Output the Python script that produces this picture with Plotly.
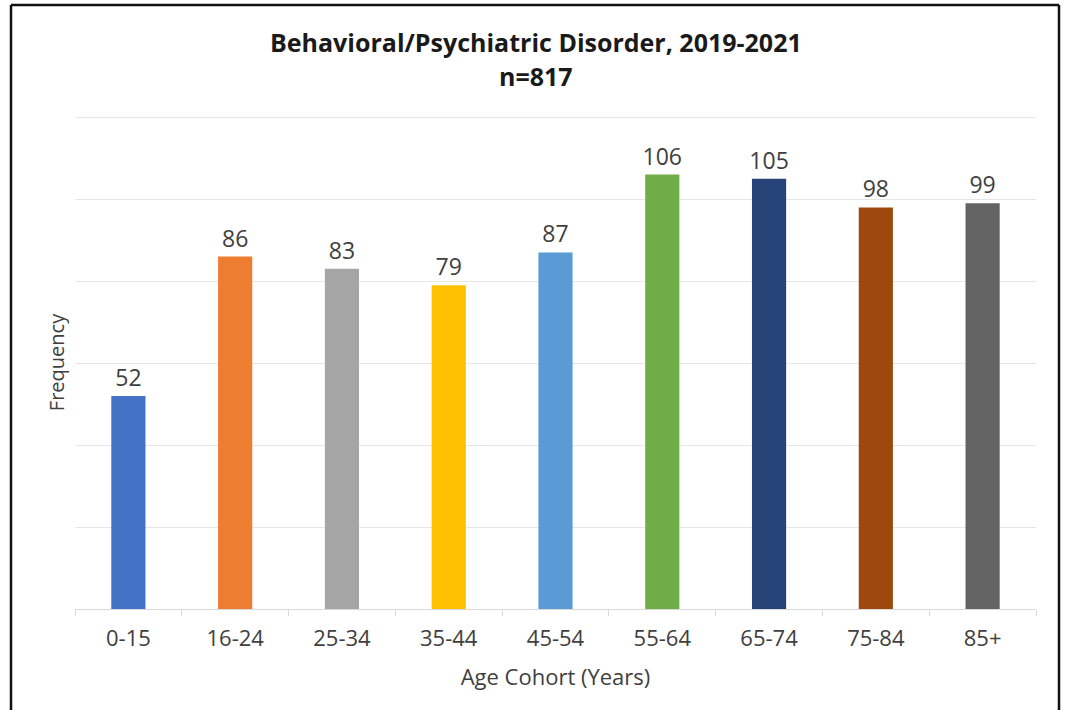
import plotly.graph_objects as go

categories = ["0-15", "16-24", "25-34", "35-44", "45-54", "55-64", "65-74", "75-84", "85+"]
values = [52, 86, 83, 79, 87, 106, 105, 98, 99]
colors = ["#4472C4", "#ED7D31", "#A5A5A5", "#FFC000", "#5B9BD5", "#70AD47", "#264478", "#9E480E", "#636363"]
y_ticks = [0, 20, 40, 60, 80, 100, 120]
title_lines = ["Behavioral/Psychiatric Disorder, 2019-2021", "n=817"]

FONT = "Open Sans, Liberation Sans, sans-serif"

# plot area target in page pixels: x 75..1036, y 116..609
PL, PR, PT, PB = 75, 1036, 116, 609
W, H = PR - PL, PB - PT


def px_x(x):
    return (x - PL) / W


def px_y(y):
    return (PB - y) / H


fig = go.Figure(go.Bar(
    x=categories, y=values,
    marker=dict(color=colors, line=dict(width=0)),
    text=[str(v) for v in values], textposition="outside",
    textfont=dict(size=23, color="#404040", family=FONT),
    constraintext="none",
    cliponaxis=False,
    width=0.32,
))

fig.update_layout(
    width=1065, height=710,
    paper_bgcolor="white", plot_bgcolor="white",
    margin=dict(l=PL, r=1065 - PR, t=PT, b=710 - PB, autoexpand=False),
    showlegend=False,
    font=dict(family=FONT, color="#404040"),
    xaxis=dict(
        showgrid=False, showline=True, linecolor="#d9d9d9", linewidth=1,
        ticks="outside", tickson="boundaries", ticklen=6, tickcolor="#d9d9d9",
        ticklabelstandoff=10,
        tickfont=dict(size=22, color="#404040"),
        title=dict(text="Age Cohort (Years)", font=dict(size=22, color="#404040"), standoff=18),
    ),
    yaxis=dict(
        range=[0, 120.3], tickvals=y_ticks, showticklabels=False,
        showgrid=True, gridcolor="#e6e6e6", gridwidth=1, zeroline=False,
        title=dict(text="Frequency", font=dict(size=20, color="#404040"), standoff=4),
    ),
    annotations=[
        dict(text="<b>" + title_lines[0] + "</b>", xref="paper", yref="paper",
             x=px_x(536), y=px_y(42), xanchor="center", yanchor="middle", showarrow=False,
             font=dict(size=25, color="#1a1a1a", family=FONT)),
        dict(text="<b>" + title_lines[1] + "</b>", xref="paper", yref="paper",
             x=px_x(536), y=px_y(76), xanchor="center", yanchor="middle", showarrow=False,
             font=dict(size=25, color="#1a1a1a", family=FONT)),
    ],
    shapes=[
        dict(type="line", xref="paper", yref="paper",
             x0=px_x(11), x1=px_x(11), y0=px_y(720), y1=px_y(5),
             line=dict(color="#111111", width=2.5)),
        dict(type="line", xref="paper", yref="paper",
             x0=px_x(11), x1=px_x(1059), y0=px_y(5), y1=px_y(5),
             line=dict(color="#111111", width=2.5)),
        dict(type="line", xref="paper", yref="paper",
             x0=px_x(1059), x1=px_x(1059), y0=px_y(720), y1=px_y(5),
             line=dict(color="#111111", width=2.5)),
    ],
)

fig.write_html("out.html", config={"displayModeBar": False},
               post_script="document.body.style.margin='0';document.body.style.overflow='hidden';")
